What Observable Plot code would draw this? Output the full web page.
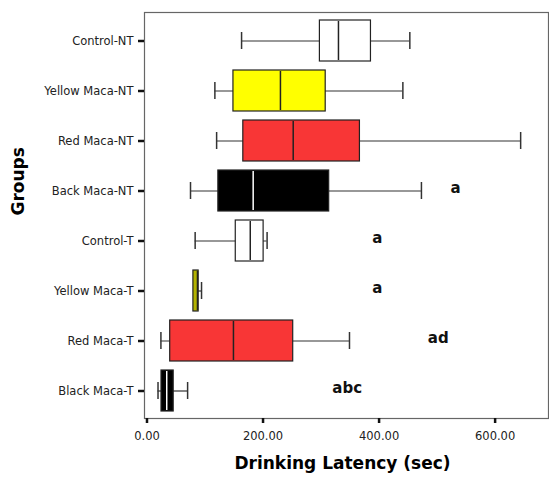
<!DOCTYPE html>
<html>
<head>
<meta charset="utf-8">
<script src="https://cdn.jsdelivr.net/npm/d3@7"></script>
<script src="https://cdn.jsdelivr.net/npm/@observablehq/plot@0.6"></script>
<style>
  html, body { margin: 0; padding: 0; background: #fff; }
  #chart svg { display: block; background: #fff; }
</style>
</head>
<body>
<div id="chart"></div>
<script>
// ---- data ----
const groups = ["Control-NT", "Yellow Maca-NT", "Red Maca-NT", "Back Maca-NT",
                "Control-T", "Yellow Maca-T", "Red Maca-T", "Black Maca-T"];
const whiskerLow  = [163, 117, 120,  75,  83, 80,  24, 19];
const quartile1   = [298, 149, 166, 123, 153, 80,  40, 25];
const medians     = [330, 230, 252, 183, 178, 87, 149, 34];
const quartile3   = [386, 308, 367, 314, 201, 89, 252, 46];
const whiskerHigh = [453, 441, 644, 473, 207, 94, 349, 70];
const letters     = ["", "", "", "a", "a", "a", "ad", "abc"];
const letterAt    = [null, null, null, 532, 397, 397, 502, 345];
const xTicks      = [0, 200, 400, 600];

// ---- styles ----
const fillOf = {
  "Control-NT": "#ffffff", "Yellow Maca-NT": "#ffff00", "Red Maca-NT": "#f83636",
  "Back Maca-NT": "#000000", "Control-T": "#ffffff", "Yellow Maca-T": "#b3b300",
  "Red Maca-T": "#f83636", "Black Maca-T": "#000000"
};
const medianOf = g => (fillOf[g] === "#000000" ? "#ffffff" : "#222222");

const rows = groups.map((g, i) => ({
  group: g, low: whiskerLow[i], q1: quartile1[i], median: medians[i],
  q3: quartile3[i], high: whiskerHigh[i], letter: letters[i], lx: letterAt[i]
}));
const lowCaps = rows.filter(d => d.low < d.q1);
const notes = rows.filter(d => d.letter);

const font = "'DejaVu Sans', Verdana, sans-serif";

const chart = Plot.plot({
  width: 549,
  height: 483,
  marginLeft: 144,
  marginTop: 12,
  marginRight: 1,
  marginBottom: 65,
  style: { fontFamily: font, color: "#222", background: "#fff" },
  x: { domain: [-4.3, 692] },
  y: { domain: groups, paddingInner: 0.18, paddingOuter: 0.09 },
  marks: [
    Plot.frame({ stroke: "#666", strokeWidth: 1.2 }),
    Plot.ruleY(rows, { y: "group", x1: "low", x2: "high", stroke: "#333", strokeWidth: 1.2 }),
    Plot.tickX(rows, { y: "group", x: "high", stroke: "#333", strokeWidth: 1.5, insetTop: 12, insetBottom: 12 }),
    Plot.tickX(lowCaps, { y: "group", x: "low", stroke: "#333", strokeWidth: 1.5, insetTop: 12, insetBottom: 12 }),
    Plot.barX(rows, { y: "group", x1: "q1", x2: "q3", fill: d => fillOf[d.group], stroke: "#222", strokeWidth: 1.2 }),
    Plot.tickX(rows, { y: "group", x: "median", stroke: d => medianOf(d.group), strokeWidth: 1.5, insetTop: 1, insetBottom: 1 }),
    Plot.text(notes, { y: "group", x: "lx", text: "letter", fontSize: 15, fontWeight: "bold", fill: "#111", dy: -3 }),
    Plot.axisY({ tickSize: 6, tickPadding: 5, strokeWidth: 2.5, stroke: "#111", fontSize: 11.5, label: null, fill: "#222" }),
    Plot.axisX({ ticks: xTicks, tickFormat: d3.format(".2f"), tickSize: 5, tickPadding: 8, strokeWidth: 2.5, stroke: "#111", fontSize: 11.5, label: null, fill: "#222" }),
    Plot.text(["Groups"], { frameAnchor: "left", dx: -126, rotate: -90, text: d => d, fontSize: 17, fontWeight: "bold", fill: "#000" }),
    Plot.text(["Drinking Latency (sec)"], { frameAnchor: "bottom", dy: 50, dx: -4, text: d => d, fontSize: 17, fontWeight: "bold", fill: "#000" })
  ]
});
document.getElementById("chart").appendChild(chart);
</script>
</body>
</html>
